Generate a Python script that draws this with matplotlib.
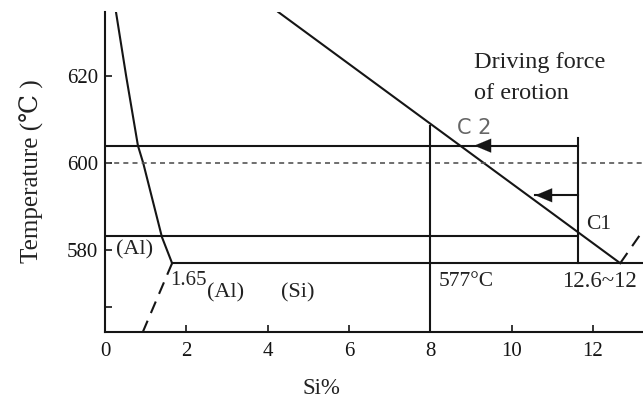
import matplotlib
matplotlib.use("Agg")
import matplotlib.pyplot as plt

plt.rcParams["font.family"] = ["Liberation Serif", "DejaVu Serif", "DejaVu Sans"]

# 轴范围和刻度
x_lim = (0, 13.23)
y_lim = (561.2, 634.7)
x_ticks = [0, 2, 4, 6, 8, 10, 12]
y_ticks = [580, 600, 620]

# 曲线数据
solidus_si = [0.27, 0.52, 0.81, 0.94, 1.40, 1.65]
solidus_t = [634.7, 620, 604, 600, 583, 577]
solvus_si = [1.65, 0.93]
solvus_t = [577, 561.2]
liquidus_si = [4.26, 12.67]
liquidus_t = [634.7, 577]
si_side_si = [12.67, 13.23]
si_side_t = [577, 584.5]

eutectic_t = 577
eutectic_si = [1.65, 13.23]
upper_t = 604          # C2 所在温度
lower_t = 583.2        # C1 所在温度
hold_t = 600           # 虚线
sample_si = 11.64      # 右侧竖线
line8_si = 8.0
line8_top = 608.5
sample_top = 605.7
arrow2_t = 592.6
arrow1_tip = 9.08
arrow2_tip = 10.58


def py(p):
    # 像素行 -> 温度
    return 634.7 - (p - 12) / 4.35


def px(p):
    # 像素列 -> Si%
    return (p - 105) / 40.65


fig = plt.figure(figsize=(6.43, 3.99), dpi=100)
ax = fig.add_axes([105 / 643, 1 - 332 / 399, 1 - 105 / 643, 320 / 399])
ax.set_xlim(*x_lim)
ax.set_ylim(*y_lim)

lc = "#151515"
lw = 1.5

ax.plot(solidus_si, solidus_t, color=lc, lw=lw)
ax.plot(solvus_si, solvus_t, color=lc, lw=lw, dashes=(6, 4))
ax.plot(liquidus_si, liquidus_t, color=lc, lw=lw)
ax.plot(si_side_si, si_side_t, color=lc, lw=lw, dashes=(6, 4))
ax.plot(eutectic_si, [eutectic_t, eutectic_t], color=lc, lw=lw)

ax.plot([0, sample_si], [upper_t, upper_t], color=lc, lw=lw)
ax.plot([0, sample_si], [lower_t, lower_t], color=lc, lw=lw)
ax.plot([0, x_lim[1]], [hold_t, hold_t], color="#555555", lw=1.2, dashes=(3, 2.5))
ax.plot([line8_si, line8_si], [y_lim[0], line8_top], color=lc, lw=lw)
ax.plot([sample_si, sample_si], [eutectic_t, sample_top], color=lc, lw=lw)
ax.plot([arrow2_tip, sample_si], [arrow2_t, arrow2_t], color=lc, lw=lw)

# 箭头
for tip, t in [(arrow1_tip, upper_t), (arrow2_tip, arrow2_t)]:
    ax.annotate("", xy=(tip, t), xytext=(tip + 0.6, t),
                arrowprops=dict(arrowstyle="-|>,head_length=0.6,head_width=0.25",
                                color=lc, lw=0.1, mutation_scale=20,
                                shrinkA=0, shrinkB=0))

# 坐标轴样式
for s in ["top", "right"]:
    ax.spines[s].set_visible(False)
for s in ["left", "bottom"]:
    ax.spines[s].set_color(lc)
    ax.spines[s].set_linewidth(1.5)
ax.set_xticks(x_ticks)
ax.set_yticks(y_ticks)
ax.set_yticks([566.9], minor=True)
ax.tick_params(direction="in", length=5, width=1.2, colors=lc, labelsize=15, pad=5)
ax.tick_params(which="minor", direction="in", length=5, width=1.2, colors=lc)
ax.tick_params(axis="x", pad=7)

tc = "#222222"
fig.text(32 / 643, 1 - 171 / 399, "Temperature (℃ )", rotation=90, fontsize=18,
         ha="center", va="center", color=tc)
fig.text(321 / 643, 1 - 389 / 399, "Si%", fontsize=16.5, ha="center", va="center",
         color=tc)

ax.text(px(474), py(62), "Driving force", fontsize=17.5, va="center", color=tc)
ax.text(px(474), py(93), "of erotion", fontsize=17.5, va="center", color=tc)
ax.text(px(457), py(128), "C 2", fontsize=15, va="center", color="#666666",
        family="DejaVu Sans")
ax.text(px(586), py(224), "C1", fontsize=15.5, va="center", color=tc)
ax.text(px(116), py(250), "(Al)", fontsize=16, va="center", color=tc)
ax.text(px(170), py(280), "1.65", fontsize=15, va="center", color=tc)
ax.text(px(207), py(293), "(Al)", fontsize=16, va="center", color=tc)
ax.text(px(281), py(293), "(Si)", fontsize=16, va="center", color=tc)
ax.text(px(439), py(281), "577°C", fontsize=15.5, va="center", color=tc)
ax.text(px(562), py(281), "12.6~12", fontsize=16.5, va="center", color=tc,
        clip_on=True)

fig.savefig("out.png", dpi=100)
